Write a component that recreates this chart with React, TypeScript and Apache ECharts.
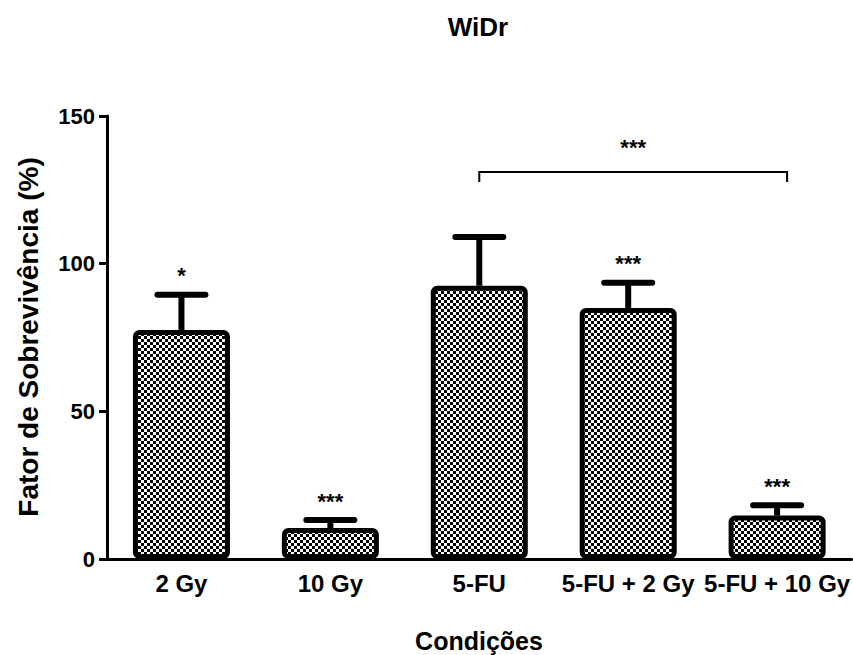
import React, { useEffect, useRef } from "react";
import * as echarts from "echarts";

const categories = ["2 Gy", "10 Gy", "5-FU", "5-FU + 2 Gy", "5-FU + 10 Gy"];
const means = [77.5, 10.5, 92.5, 85, 14.7];
const errors = [12, 2.7, 16.5, 8.5, 3.5];
const significance = ["*", "***", "", "***", "***"];
const yMin = 0;
const yMax = 150;
const yInterval = 50;
const bracketFrom = 2;
const bracketTo = 4;
const bracketLevel = 131;
const bracketLabel = "***";

const FONT = "'Liberation Sans', Arial, Helvetica, sans-serif";

function makePattern(): string {
  const s = 3;
  const c = document.createElement("canvas");
  c.width = s * 2;
  c.height = s * 2;
  const ctx = c.getContext("2d")!;
  ctx.fillStyle = "#ffffff";
  ctx.fillRect(0, 0, s * 2, s * 2);
  ctx.fillStyle = "#000000";
  ctx.fillRect(0, 0, s, s);
  ctx.fillRect(s, s, s, s);
  return c.toDataURL();
}

export default function App() {
  const ref = useRef<HTMLDivElement>(null);
  useEffect(() => {
    if (!ref.current) return;
    const chart = echarts.init(ref.current, undefined, { renderer: "svg" });
    const pattern = makePattern();
    const option: any = {
      animation: false,
      backgroundColor: "#ffffff",
      grid: { left: 107, right: 0, top: 116, bottom: 96, containLabel: false },
      xAxis: {
        type: "category",
        data: categories,
        axisLine: { lineStyle: { color: "#000", width: 3 } },
        axisTick: { alignWithLabel: true, length: 10, lineStyle: { color: "#000", width: 3 } },
        axisLabel: {
          color: "#000",
          fontFamily: FONT,
          fontWeight: "bold",
          fontSize: 24,
          margin: 12,
          interval: 0,
        },
      },
      yAxis: {
        type: "value",
        min: yMin,
        max: yMax,
        interval: yInterval,
        splitLine: { show: false },
        axisLine: { show: true, lineStyle: { color: "#000", width: 3 } },
        axisTick: { show: true, length: 8, lineStyle: { color: "#000", width: 3 } },
        axisLabel: {
          color: "#000",
          fontFamily: FONT,
          fontWeight: "bold",
          fontSize: 22,
          margin: 12,
        },
      },
      graphic: [
        {
          type: "text",
          x: 478,
          y: 27,
          style: {
            text: "WiDr",
            font: `bold 26px ${FONT}`,
            fill: "#000",
            textAlign: "center",
            textVerticalAlign: "middle",
          },
        },
        {
          type: "text",
          x: 479,
          y: 641,
          style: {
            text: "Condições",
            font: `bold 25px ${FONT}`,
            fill: "#000",
            textAlign: "center",
            textVerticalAlign: "middle",
          },
        },
        {
          type: "text",
          x: 28,
          y: 337,
          rotation: Math.PI / 2,
          style: {
            text: "Fator de Sobrevivência (%)",
            font: `bold 28px ${FONT}`,
            fill: "#000",
            textAlign: "center",
            textVerticalAlign: "middle",
          },
        },
      ],
      series: [
        {
          type: "custom",
          z: 2,
          data: categories.map((_, i) => [i, means[i], errors[i]]),
          encode: { x: 0, y: 1 },
          renderItem: (params: any, api: any) => {
            const i = api.value(0);
            const m = api.value(1);
            const e = api.value(2);
            const base = api.coord([i, m]);
            const top = api.coord([i, m + e]);
            const half = 24;
            const star = significance[params.dataIndex];
            const children: any[] = [
              {
                type: "line",
                shape: { x1: base[0], y1: base[1], x2: top[0], y2: top[1] },
                style: { stroke: "#000", lineWidth: 6 },
              },
              {
                type: "line",
                shape: { x1: top[0] - half, y1: top[1], x2: top[0] + half, y2: top[1] },
                style: { stroke: "#000", lineWidth: 6, lineCap: "round" },
              },
            ];
            if (star) {
              children.push({
                type: "text",
                x: top[0],
                y: top[1] - 8,
                style: {
                  text: star,
                  font: `bold 22px ${FONT}`,
                  fill: "#000",
                  textAlign: "center",
                  textVerticalAlign: "bottom",
                },
              });
            }
            return { type: "group", children };
          },
        },
        {
          type: "bar",
          z: 3,
          data: means,
          barWidth: 97,
          itemStyle: {
            color: { image: pattern, repeat: "repeat" },
            borderColor: "#000",
            borderWidth: 5,
            borderRadius: 4,
          },
        },
        {
          type: "custom",
          z: 4,
          data: [[bracketFrom, bracketTo, bracketLevel]],
          encode: { x: [0, 1], y: 2 },
          renderItem: (params: any, api: any) => {
            const p1 = api.coord([api.value(0), api.value(2)]);
            const p2 = api.coord([api.value(1), api.value(2)]);
            const x2 = p2[0] + 10;
            return {
              type: "group",
              children: [
                {
                  type: "polyline",
                  shape: {
                    points: [
                      [p1[0], p1[1] + 10],
                      [p1[0], p1[1]],
                      [x2, p2[1]],
                      [x2, p2[1] + 10],
                    ],
                  },
                  style: { stroke: "#000", lineWidth: 2, fill: null },
                },
                {
                  type: "text",
                  x: (p1[0] + x2) / 2,
                  y: p1[1] - 14,
                  style: {
                    text: bracketLabel,
                    font: `bold 22px ${FONT}`,
                    fill: "#000",
                    textAlign: "center",
                    textVerticalAlign: "bottom",
                  },
                },
              ],
            };
          },
        },
      ],
    };
    chart.setOption(option);
    return () => chart.dispose();
  }, []);
  return <div ref={ref} style={{ width: 853, height: 655, position: "absolute", left: 0, top: 0 }} />;
}
